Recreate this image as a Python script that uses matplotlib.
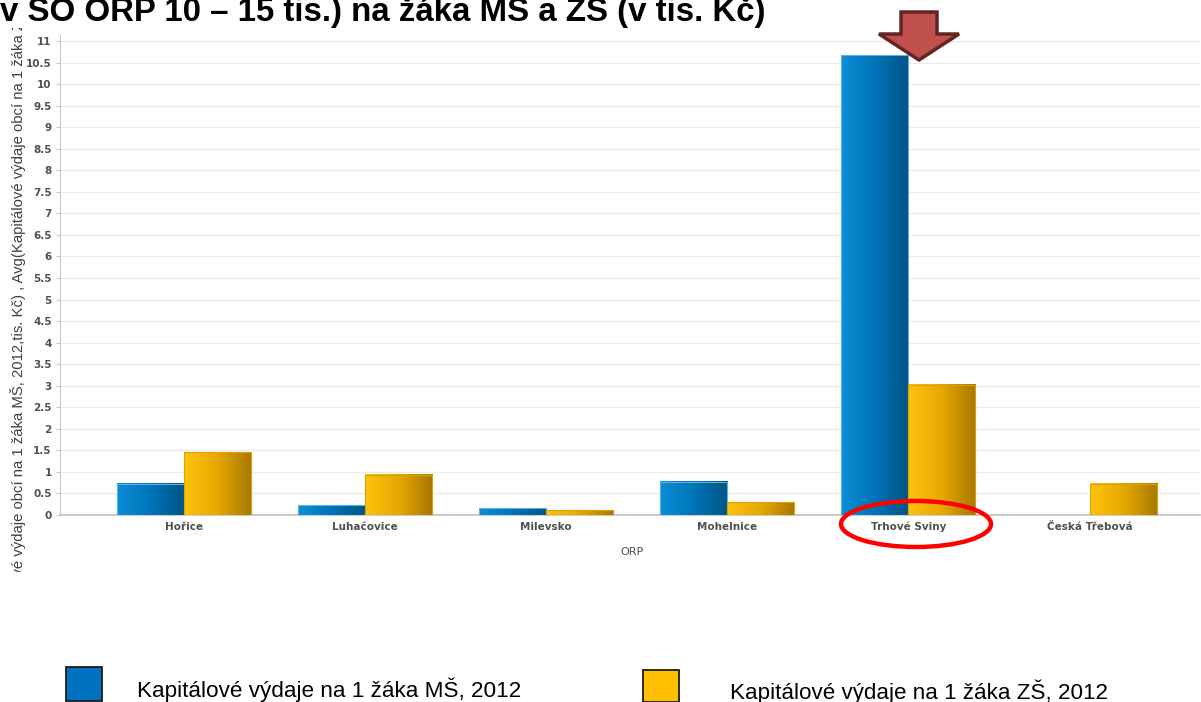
import matplotlib
matplotlib.use("Agg")
import matplotlib.pyplot as plt
import numpy as np
from matplotlib.patches import Ellipse, Polygon, Rectangle
from matplotlib.colors import LinearSegmentedColormap
from matplotlib.transforms import Bbox, TransformedBbox

categories = ["Hořice", "Luhačovice", "Milevsko", "Mohelnice", "Trhové Sviny", "Česká Třebová"]
ms_values = [0.72, 0.23, 0.16, 0.77, 10.67, 0.0]
zs_values = [1.46, 0.93, 0.11, 0.30, 3.02, 0.72]
series_names = ["Kapitálové výdaje na 1 žáka MŠ, 2012", "Kapitálové výdaje na 1 žáka ZŠ, 2012"]
yticks = np.arange(0, 11.01, 0.5)
ytick_labels = ["0" if v == 0 else (f"{v:g}") for v in yticks]

W, H = 1201, 702
fig = plt.figure(figsize=(W / 100, H / 100), dpi=100)
fig.patch.set_facecolor("white")

ax = fig.add_axes([60 / W, (H - 515) / H, (1200 - 60) / W, (515 - 35) / H])
x = np.arange(len(categories))
bw = 0.37
ax.set_xlim(-0.685, 5.61)
ax.set_ylim(0, 11.14)

blue_cmap = LinearSegmentedColormap.from_list("b", ["#0a8fd6", "#0073b8", "#005585"])
orange_cmap = LinearSegmentedColormap.from_list("o", ["#ffc20e", "#e6a800", "#a87800"])
bars1 = ax.bar(x - bw / 2, ms_values, bw, color="none", edgecolor="none", zorder=3)
bars2 = ax.bar(x + bw / 2, zs_values, bw, color="none", edgecolor="none", zorder=3)
grad = np.linspace(0, 1, 64).reshape(1, -1)
for bars, cmap, edge in ((bars1, blue_cmap, "#5fb0e0"), (bars2, orange_cmap, "#d9a300")):
    for b in bars:
        h = b.get_height()
        if h <= 0:
            continue
        x0 = b.get_x()
        w = b.get_width()
        ax.imshow(grad, cmap=cmap, aspect="auto", extent=(x0, x0 + w, 0, h), zorder=3, interpolation="bilinear")
        ax.add_patch(Rectangle((x0, 0), w, h, fill=False, edgecolor=edge, linewidth=0.8, zorder=4))

ax.set_yticks(yticks)
ax.set_yticklabels(ytick_labels)
ax.set_xticks(x)
ax.set_xticklabels(categories)
for lab in ax.get_yticklabels() + ax.get_xticklabels():
    lab.set_fontsize(7.5)
    lab.set_fontweight("bold")
    lab.set_color("#505050")
    lab.set_family("DejaVu Sans")
ax.tick_params(axis="y", length=3, color="#c8c8c8", pad=3)
ax.tick_params(axis="x", length=0, pad=5)
ax.grid(axis="y", color="#ececec", linewidth=1.0, zorder=0)
ax.set_axisbelow(True)
for s in ["top", "right"]:
    ax.spines[s].set_visible(False)
ax.spines["left"].set_color("#c8c8c8")
ax.spines["bottom"].set_color("#c0c0c0")
ax.spines["bottom"].set_linewidth(1.2)
ax.set_xlabel("ORP", fontsize=8, color="#505050", labelpad=6, family="DejaVu Sans")
ax.xaxis.set_label_coords((632 - 60) / (1200 - 60), -(547 - 515) / (515 - 35))

ylab = fig.text(18 / W, 1 - 290 / H,
                "Avg(Kapitálové výdaje obcí na 1 žáka MŠ, 2012,tis. Kč) , Avg(Kapitálové výdaje obcí na 1 žáka ZŠ, 2012,tis. Kč)",
                rotation=90, ha="center", va="center", fontsize=10.7, color="#404040", family="Liberation Sans")
ylab.set_clip_box(TransformedBbox(Bbox([[0, (H - 572) / H], [40 / W, (H - 28) / H]]), fig.transFigure))
ylab.set_clip_on(True)

fig.text(0 / W, 1 - 21 / H, "v SO ORP 10 – 15 tis.) na žáka MŠ a ZŠ (v tis. Kč)",
         ha="left", va="baseline", fontsize=23.8, fontweight="bold", color="black", family="Liberation Sans")

# Legend
fig.patches.append(Rectangle((66 / W, 1 / H), 36 / W, 34 / H, transform=fig.transFigure,
                             facecolor="#0070c0", edgecolor="#1a1a1a", linewidth=1.3))
fig.text(137 / W, 1 - 697 / H, series_names[0], ha="left", va="baseline", fontsize=16.2,
         family="Liberation Sans", color="black")
fig.patches.append(Rectangle((643 / W, 0), 36 / W, 32 / H, transform=fig.transFigure,
                             facecolor="#ffc000", edgecolor="#1a1a1a", linewidth=1.3))
fig.text(730 / W, 1 - 699 / H, series_names[1], ha="left", va="baseline", fontsize=16.1,
         family="Liberation Sans", color="black")

# Red ellipse annotation
fig.patches.append(Ellipse((916 / W, 1 - 524 / H), 150 / W, 46 / H, transform=fig.transFigure,
                           fill=False, edgecolor="#ff0000", linewidth=3.2))

# Down arrow annotation
pts = [(901, 12), (937, 12), (937, 34), (959, 34), (919, 60), (879, 34), (901, 34)]
fig.patches.append(Polygon([(px / W, 1 - py / H) for px, py in pts], closed=True, transform=fig.transFigure,
                           facecolor="#c0504d", edgecolor="#632523", linewidth=2.5))

fig.savefig("out.png", dpi=100)
